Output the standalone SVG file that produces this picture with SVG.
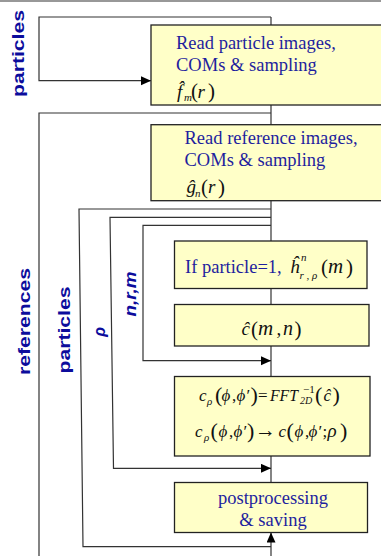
<svg xmlns="http://www.w3.org/2000/svg" width="381" height="556" viewBox="0 0 381 556">
<defs>
<marker id="arr" markerUnits="userSpaceOnUse" markerWidth="11" markerHeight="10" refX="10" refY="4.5" orient="auto">
<path d="M0,0 L10,4.5 L0,9 z" fill="#000"/>
</marker>
<style>
.ln{fill:none;stroke:#333;stroke-width:1.2}
.box{fill:#ffffc8;stroke:#222;stroke-width:1.3}
.lbl{font-family:"Liberation Sans",Arial,sans-serif;font-weight:bold;font-size:16px;fill:#0c0c9c}
.bt{font-family:"Liberation Serif","Times New Roman",serif;font-size:18.5px;fill:#1e1e9e}
.m{font-family:"Liberation Serif","DejaVu Serif","Times New Roman",serif;font-size:19px;fill:#111}
.m5{font-family:"Liberation Serif","DejaVu Serif","Times New Roman",serif;font-size:17px;fill:#111}
.i{font-style:italic}
.s{font-size:11px}
.p{font-size:21px}
.p5{font-size:22px}
.g{font-size:17px}
</style>
</defs>
<rect width="381" height="556" fill="#fff"/>
<g id="connectors">
<path class="ln" d="M0,1 H381"/>
<path class="ln" d="M271,17 V482"/>
<path class="ln" d="M271,17 H39 V80.7 H151" marker-end="url(#arr)"/>
<path class="ln" d="M271,113 H39 V556"/>
<path class="ln" d="M271,209 H79 L83,546.7 H271"/>
<path class="ln" d="M271,217.3 H110 L113.5,468.3 H271" marker-end="url(#arr)"/>
<path class="ln" d="M271,225.3 H143 V360.7 H271" marker-end="url(#arr)"/>
<path class="ln" d="M271,556 V532.5" marker-end="url(#arr)"/>
</g>
<g id="label-particles-top"><text class="lbl" transform="translate(23.5,53.5) rotate(-90)" text-anchor="middle" textLength="87" lengthAdjust="spacingAndGlyphs">particles</text></g>
<g id="label-references"><text class="lbl" transform="translate(29.5,321.5) rotate(-90)" text-anchor="middle" textLength="107" lengthAdjust="spacingAndGlyphs">references</text></g>
<g id="label-particles"><text class="lbl" transform="translate(70,330) rotate(-90)" text-anchor="middle" textLength="87" lengthAdjust="spacingAndGlyphs">particles</text></g>
<g id="label-rho"><text class="lbl" font-style="italic" transform="translate(105,332) rotate(-90)" text-anchor="middle">ρ</text></g>
<g id="label-nrm"><text class="lbl" font-style="italic" transform="translate(135.5,294) rotate(-90)" text-anchor="middle" textLength="45" lengthAdjust="spacingAndGlyphs">n,r,m</text></g>
<g id="node-read-particles">
<rect class="box" x="151" y="25" width="240" height="80"/>
<text class="bt" x="176" y="49">Read particle images,</text>
<text class="bt" x="176" y="71">COMs &amp; sampling</text>
<text class="m"><tspan class="i" x="177" y="97.5">f̂</tspan><tspan class="i s" x="184" y="101">m</tspan><tspan class="p" x="191" y="98">(</tspan><tspan class="i" x="197.5" y="97.5">r</tspan><tspan class="p" x="208" y="98">)</tspan></text>
</g>
<g id="node-read-references">
<rect class="box" x="151" y="124.7" width="240" height="76"/>
<text class="bt" x="184.5" y="144">Read reference images,</text>
<text class="bt" x="184.5" y="166">COMs &amp; sampling</text>
<text class="m"><tspan class="i" x="186.5" y="193">ĝ</tspan><tspan class="i s" x="195" y="196.5">n</tspan><tspan class="p" x="201" y="193.5">(</tspan><tspan class="i" x="208" y="193">r</tspan><tspan class="p" x="218" y="193.5">)</tspan></text>
</g>
<g id="node-h">
<rect class="box" x="174.5" y="241" width="192.5" height="47.5"/>
<text class="bt" x="185" y="273">If particle=1,</text>
<text class="m"><tspan class="i" x="290" y="273">ĥ</tspan><tspan class="i s" x="301" y="261">n</tspan><tspan class="i s" x="299.5" y="279">r , ρ</tspan><tspan class="p" x="321" y="274">(</tspan><tspan class="i" x="328" y="273" style="font-size:21px">m</tspan><tspan class="p" x="346" y="274">)</tspan></text>
</g>
<g id="node-c">
<rect class="box" x="174.5" y="304.5" width="194.5" height="41.5"/>
<text class="m"><tspan class="i" x="241.5" y="335">ĉ</tspan><tspan class="p" x="251" y="336">(</tspan><tspan class="i" x="258" y="335" style="font-size:21px">m</tspan><tspan x="276.5" y="335">,</tspan><tspan class="i" x="283" y="335" style="font-size:20px">n</tspan><tspan class="p" x="294.5" y="336">)</tspan></text>
</g>
<g id="node-fft">
<rect class="box" x="174.5" y="376.5" width="195.5" height="79.5"/>
<text class="m5"><tspan class="i" x="199" y="401">c</tspan><tspan class="i s" x="207" y="404.5">ρ</tspan><tspan class="p5" x="215" y="402">(</tspan><tspan class="i g" x="221.5" y="401">ϕ</tspan><tspan x="232" y="401">,</tspan><tspan class="i g" x="236.5" y="401">ϕ</tspan><tspan x="246.5" y="401">′</tspan><tspan class="p5" x="250.5" y="402">)</tspan><tspan x="258" y="401">=</tspan><tspan class="i" x="270" y="401" textLength="28" lengthAdjust="spacingAndGlyphs">FFT</tspan><tspan class="s" x="303" y="393">−1</tspan><tspan class="i" style="font-size:10px" x="300" y="404">2D</tspan><tspan class="p5" x="315" y="402">(</tspan><tspan class="i" x="323.5" y="401">ĉ</tspan><tspan class="p5" x="332.5" y="402">)</tspan></text>
<text class="m5"><tspan class="i" x="195" y="437">c</tspan><tspan class="i s" x="204" y="440.5">ρ</tspan><tspan class="p5" x="210.5" y="438">(</tspan><tspan class="i g" x="218.5" y="437">ϕ</tspan><tspan x="229" y="437">,</tspan><tspan class="i g" x="233.5" y="437">ϕ</tspan><tspan x="243.5" y="437">′</tspan><tspan class="p5" x="247" y="438">)</tspan><tspan x="255" y="437" style="font-size:22px" textLength="21" lengthAdjust="spacingAndGlyphs">→</tspan><tspan class="i" x="278.5" y="437">c</tspan><tspan class="p5" x="286.5" y="438">(</tspan><tspan class="i g" x="294.5" y="437">ϕ</tspan><tspan x="305" y="437">,</tspan><tspan class="i g" x="308.5" y="437">ϕ</tspan><tspan x="318.5" y="437">′</tspan><tspan x="322.5" y="437">;</tspan><tspan class="i" x="327.5" y="437" style="font-size:19px">ρ</tspan><tspan class="p5" x="340" y="438">)</tspan></text>
</g>
<g id="node-post">
<rect class="box" x="174.5" y="482.5" width="193" height="50"/>
<text class="bt" x="273" y="504" text-anchor="middle">postprocessing</text>
<text class="bt" x="273" y="525.5" text-anchor="middle">&amp; saving</text>
</g>
</svg>
